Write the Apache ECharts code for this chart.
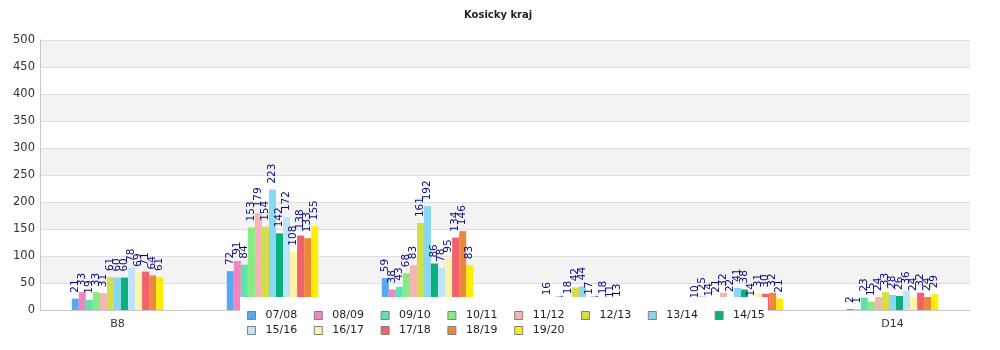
<!DOCTYPE html>
<html>
<head>
<meta charset="utf-8">
<script src="https://cdn.jsdelivr.net/npm/echarts@6/dist/echarts.min.js"></script>
<style>
html,body{margin:0;padding:0;background:#fff;}
#chart{width:1000px;height:350px;}
</style>
</head>
<body>
<div id="chart"></div>
<script>
const categories = ["B8", "C10", "C11", "D12", "D13", "D14"];
const seasons = ["07/08","08/09","09/10","10/11","11/12","12/13","13/14","14/15","15/16","16/17","17/18","18/19","19/20"];
const yTicks = [0,50,100,150,200,250,300,350,400,450,500];

const s0708 = [21, 72, 59, 1, 10, 2];
const s0809 = [33, 91, 38, 16, 25, 1];
const s0910 = [19, 84, 43, 1, 14, 23];
const s1011 = [33, 153, 68, 4, 21, 15];
const s1112 = [31, 179, 83, 18, 32, 24];
const s1213 = [61, 154, 161, 42, 22, 33];
const s1314 = [60, 223, 192, 44, 41, 28];
const s1415 = [60, 142, 86, 17, 38, 26];
const s1516 = [78, 172, 78, 4, 14, 36];
const s1617 = [69, 108, 95, 18, 31, 24];
const s1718 = [71, 138, 134, 11, 30, 32];
const s1819 = [64, 133, 146, 13, 32, 24];
const s1920 = [61, 155, 83, 1, 21, 29];

const seriesValues = [s0708,s0809,s0910,s1011,s1112,s1213,s1314,s1415,s1516,s1617,s1718,s1819,s1920];
const colors = ["#5ba8f0","#f285c1","#5fe3ae","#86ec80","#f5b5b5","#d2de4a","#88d8f2","#0cb07c","#bfe4f7","#fff3a8","#f0616b","#ee873a","#ffee00"];

const FONT = "DejaVu Sans";

const chart = echarts.init(document.getElementById('chart'), null, {renderer:'canvas'});

const legendCommon = {
  orient: 'horizontal',
  icon: 'rect',
  itemWidth: 8,
  itemHeight: 8,
  itemGap: 16.6,
  itemStyle: {borderColor: '#808080', borderWidth: 1},
  textStyle: {fontFamily: FONT, fontSize: 11, color: '#222', padding: [0,0,0,5]},
  selectedMode: false
};

const option = {
  animation: false,
  color: colors,
  title: {
    text: 'Kosicky kraj',
    left: 459, top: 5,
    textStyle: {fontFamily: FONT, fontSize: 10, fontWeight: 'bold', color: '#222'}
  },
  legend: [
    Object.assign({}, legendCommon, {
      data: seasons.slice(0, 8),
      left: 240, top: 297,
      padding: [13, 3, 17, 7],
      backgroundColor: '#ffffff',
      z: 5
    }),
    Object.assign({}, legendCommon, {
      data: seasons.slice(8),
      left: 240, top: 325,
      padding: [0, 3, 0, 7],
      z: 6
    })
  ],
  grid: {left: 40, right: 30, top: 40, bottom: 40, containLabel: false},
  xAxis: {
    type: 'category',
    data: categories,
    axisLine: {lineStyle: {color: '#c8c8c8'}},
    axisTick: {show: false},
    axisLabel: {fontFamily: FONT, fontSize: 11, color: '#333', margin: 9},
    splitLine: {show: false}
  },
  yAxis: {
    type: 'value',
    min: yTicks[0], max: yTicks[yTicks.length-1], interval: yTicks[1]-yTicks[0],
    axisLine: {show: true, lineStyle: {color: '#c8c8c8'}},
    axisTick: {show: false},
    axisLabel: {fontFamily: FONT, fontSize: 11.5, color: '#333', margin: 5},
    splitLine: {show: true, lineStyle: {color: '#dedede'}},
    splitArea: {show: true, areaStyle: {color: ['#ffffff', '#f3f3f3']}}
  },
  series: seasons.map((name, i) => ({
    name: name,
    type: 'bar',
    data: seriesValues[i],
    barGap: '0%',
    barCategoryGap: '41%',
    itemStyle: {color: colors[i]},
    label: {
      show: true,
      position: 'top',
      rotate: 90,
      align: 'left',
      verticalAlign: 'middle',
      distance: 6,
      fontFamily: FONT,
      fontSize: 10.5,
      color: '#0a0a80'
    }
  }))
};
chart.setOption(option);
</script>
</body>
</html>
